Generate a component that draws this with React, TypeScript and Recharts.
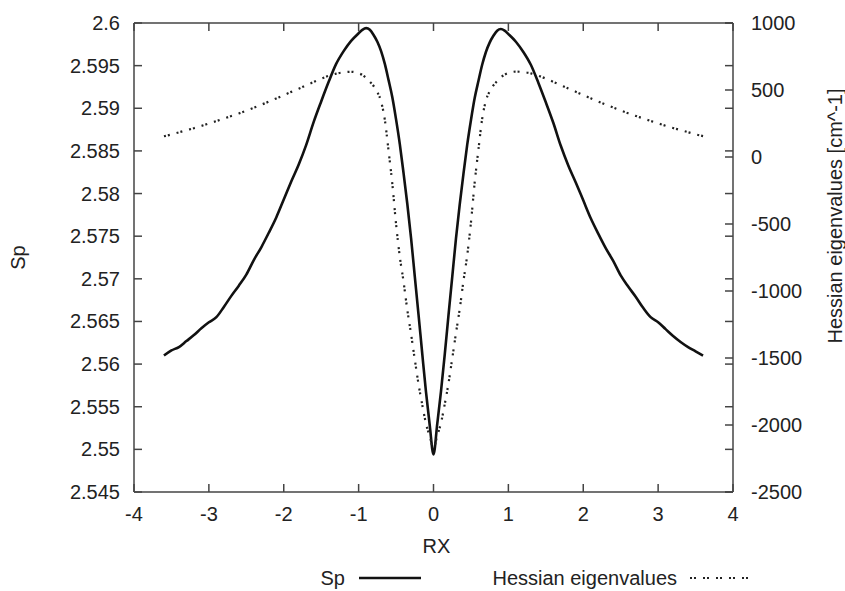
import { LineChart, Line, XAxis, YAxis, ReferenceLine, Legend } from 'recharts'

// RX grid (coarse on the tails, finer around the peaks)
const RX = [
  -3.6, -3.5, -3.4, -3.3, -3.2, -3.1, -3.0, -2.9, -2.8, -2.7, -2.6, -2.5, -2.4, -2.3,
  -2.2, -2.1, -2.0, -1.9, -1.8, -1.7, -1.6, -1.5, -1.4, -1.3, -1.2, -1.1, -1.0,
  -0.95, -0.9, -0.85, -0.8, -0.75, -0.7, -0.65, -0.6, -0.55, -0.5, -0.45, -0.4, -0.35,
  -0.3, -0.25, -0.2, -0.15, -0.1, -0.05, 0,
  0.05, 0.1, 0.15, 0.2, 0.25, 0.3, 0.35, 0.4, 0.45, 0.5, 0.55, 0.6, 0.65, 0.7, 0.75,
  0.8, 0.85, 0.9, 0.95, 1.0,
  1.1, 1.2, 1.3, 1.4, 1.5, 1.6, 1.7, 1.8, 1.9, 2.0, 2.1, 2.2, 2.3, 2.4, 2.5, 2.6, 2.7,
  2.8, 2.9, 3.0, 3.1, 3.2, 3.3, 3.4, 3.5, 3.6,
]

const SP = [
  2.5610, 2.5616, 2.5620, 2.5627, 2.5634, 2.5642, 2.5649, 2.5655, 2.5667, 2.5680, 2.5692, 2.5705, 2.5722, 2.5737,
  2.5754, 2.5772, 2.5793, 2.5814, 2.5834, 2.5857, 2.5884, 2.5908, 2.5931, 2.5952, 2.5967, 2.5979, 2.5988,
  2.5992, 2.5994, 2.5992, 2.5986, 2.5978, 2.5967, 2.5952, 2.5933, 2.5913, 2.5887, 2.5858, 2.5824, 2.5788,
  2.5748, 2.5703, 2.5658, 2.5612, 2.5567, 2.5528, 2.5494,
  2.5530, 2.5568, 2.5611, 2.5657, 2.5702, 2.5747, 2.5787, 2.5823, 2.5857, 2.5886, 2.5912, 2.5932, 2.5951, 2.5966, 2.5977,
  2.5985, 2.5991, 2.5993, 2.5991, 2.5987,
  2.5978, 2.5966, 2.5951, 2.5930, 2.5907, 2.5883, 2.5856, 2.5833, 2.5813, 2.5792, 2.5771, 2.5753, 2.5736, 2.5721, 2.5704, 2.5691, 2.5679,
  2.5666, 2.5655, 2.5649, 2.5641, 2.5633, 2.5626, 2.5620, 2.5615, 2.5610,
]

const HESSIAN = [
  155, 168, 184, 200, 215, 232, 250, 268, 287, 306, 325, 346, 368, 390,
  413, 437, 461, 486, 510, 535, 560, 584, 606, 622, 632, 636, 625,
  612, 590, 562, 530, 485, 414, 277, 45, -200, -500, -744, -930, -1140,
  -1320, -1510, -1695, -1850, -1990, -2085, -2170,
  -2080, -1985, -1845, -1690, -1505, -1315, -1135, -925, -735, -490, -190, 55, 285, 420, 490,
  534, 566, 594, 614, 627,
  637, 634, 624, 607, 585, 561, 536, 511, 487, 462, 438, 414, 391, 369, 347, 326, 307,
  288, 269, 251, 233, 216, 201, 185, 169, 156,
]

const X_TICKS = [-4, -3, -2, -1, 0, 1, 2, 3, 4]
const SP_TICKS = [2.545, 2.55, 2.555, 2.56, 2.565, 2.57, 2.575, 2.58, 2.585, 2.59, 2.595, 2.6]
const HESS_TICKS = [-2500, -2000, -1500, -1000, -500, 0, 500, 1000]

const rows = RX.map((rx, i) => ({ rx, sp: SP[i], hess: HESSIAN[i] }))

const W = 845
const H = 591
const PLOT = { left: 134, right: 733, top: 23, bottom: 492 }
const TICK = 8
const INK = '#222'
const FRAME = '#444'
const FONT = '"Liberation Sans", Arial, Helvetica, sans-serif'
const FS = 20
const DOTS = '2 2 2 7'

const textStyle = { fontFamily: FONT, fontSize: FS, fill: INK }

function XTick({ x, y, payload }: any) {
  return (
    <g>
      <line x1={x} x2={x} y1={y} y2={y - TICK} stroke={FRAME} strokeWidth={1.5} />
      <line x1={x} x2={x} y1={PLOT.top} y2={PLOT.top + TICK} stroke={FRAME} strokeWidth={1.5} />
      <text x={x} y={y + 22} textAnchor="middle" dominantBaseline="central" style={textStyle}>
        {payload.value}
      </text>
    </g>
  )
}

function SpTick({ x, y, payload }: any) {
  return (
    <g>
      <line x1={x} x2={x + TICK} y1={y} y2={y} stroke={FRAME} strokeWidth={1.5} />
      <line x1={PLOT.right} x2={PLOT.right - TICK} y1={y} y2={y} stroke={FRAME} strokeWidth={1.5} />
      <text x={x - 14} y={y} textAnchor="end" dominantBaseline="central" style={textStyle}>
        {String(Number(payload.value.toFixed(3)))}
      </text>
    </g>
  )
}

function HessTick({ x, y, payload }: any) {
  return (
    <g>
      <line x1={x} x2={x - TICK} y1={y} y2={y} stroke={FRAME} strokeWidth={1.5} />
      <text x={x + 18} y={y} textAnchor="start" dominantBaseline="central" style={textStyle}>
        {payload.value}
      </text>
    </g>
  )
}

function KeyBox({ payload }: any) {
  const sp = payload?.find((p: any) => p.dataKey === 'sp')
  const hs = payload?.find((p: any) => p.dataKey === 'hess')
  return (
    <svg width={W} height={24} style={{ display: 'block' }}>
      <text x={345} y={12} textAnchor="end" dominantBaseline="central" style={textStyle}>{sp?.value}</text>
      <line x1={359} x2={421} y1={12} y2={12} stroke="#111" strokeWidth={2.6} />
      <text x={677} y={12} textAnchor="end" dominantBaseline="central" style={textStyle}>{hs?.value}</text>
      <line x1={690} x2={752} y1={12} y2={12} stroke="#222" strokeWidth={2.2} strokeDasharray={DOTS} />
    </svg>
  )
}

export default function App() {
  return (
    <div style={{ position: 'absolute', left: 0, top: 0, width: W, height: H, background: '#fff' }}>
      <LineChart
        width={W}
        height={H}
        data={rows}
        margin={{ top: PLOT.top, right: 0, bottom: 0, left: 0 }}
      >
        <XAxis
          xAxisId="x"
          dataKey="rx"
          type="number"
          domain={[-4, 4]}
          ticks={X_TICKS}
          interval={0}
          height={H - PLOT.bottom}
          tickSize={0}
          tickMargin={0}
          tickLine={false}
          axisLine={{ stroke: FRAME, strokeWidth: 1.5 }}
          tick={<XTick />}
          label={{
            content: ({ viewBox }: any) => (
              <text x={viewBox.x + viewBox.width / 2 + 3} y={viewBox.y + 54} textAnchor="middle" dominantBaseline="central" style={textStyle}>
                RX
              </text>
            ),
          }}
        />
        <YAxis
          yAxisId="sp"
          orientation="left"
          type="number"
          domain={[2.545, 2.6]}
          ticks={SP_TICKS}
          interval={0}
          width={PLOT.left}
          tickSize={0}
          tickMargin={0}
          tickLine={false}
          axisLine={{ stroke: FRAME, strokeWidth: 1.5 }}
          tick={<SpTick />}
          label={{
            content: ({ viewBox }: any) => {
              const cx = 18
              const cy = viewBox.y + viewBox.height / 2
              return (
                <text x={cx} y={cy} transform={`rotate(-90, ${cx}, ${cy})`} textAnchor="middle" dominantBaseline="central" style={textStyle}>
                  Sp
                </text>
              )
            },
          }}
        />
        <YAxis
          yAxisId="hess"
          orientation="right"
          type="number"
          domain={[-2500, 1000]}
          ticks={HESS_TICKS}
          interval={0}
          width={W - PLOT.right}
          tickSize={0}
          tickMargin={0}
          tickLine={false}
          axisLine={{ stroke: FRAME, strokeWidth: 1.5 }}
          tick={<HessTick />}
          label={{
            content: ({ viewBox }: any) => {
              const cx = viewBox.x + 102
              const cy = viewBox.y + 193
              return (
                <text x={cx} y={cy} transform={`rotate(-90, ${cx}, ${cy})`} textAnchor="middle" dominantBaseline="central" style={textStyle}>
                  Hessian eigenvalues [cm^-1]
                </text>
              )
            },
          }}
        />
        <ReferenceLine xAxisId="x" yAxisId="sp" y={2.6} stroke={FRAME} strokeWidth={1.5} />
        <Legend
          layout="horizontal"
          verticalAlign="middle"
          align="center"
          wrapperStyle={{ top: 566, left: 0, width: W, height: 24 }}
          content={<KeyBox />}
        />
        <Line
          xAxisId="x"
          yAxisId="sp"
          type="monotone"
          dataKey="sp"
          name="Sp"
          stroke="#111"
          strokeWidth={2.6}
          dot={false}
          activeDot={false}
          isAnimationActive={false}
        />
        <Line
          xAxisId="x"
          yAxisId="hess"
          type="monotone"
          dataKey="hess"
          name="Hessian eigenvalues"
          stroke="#222"
          strokeWidth={2.2}
          strokeDasharray={DOTS}
          dot={false}
          activeDot={false}
          isAnimationActive={false}
        />
      </LineChart>
    </div>
  )
}
